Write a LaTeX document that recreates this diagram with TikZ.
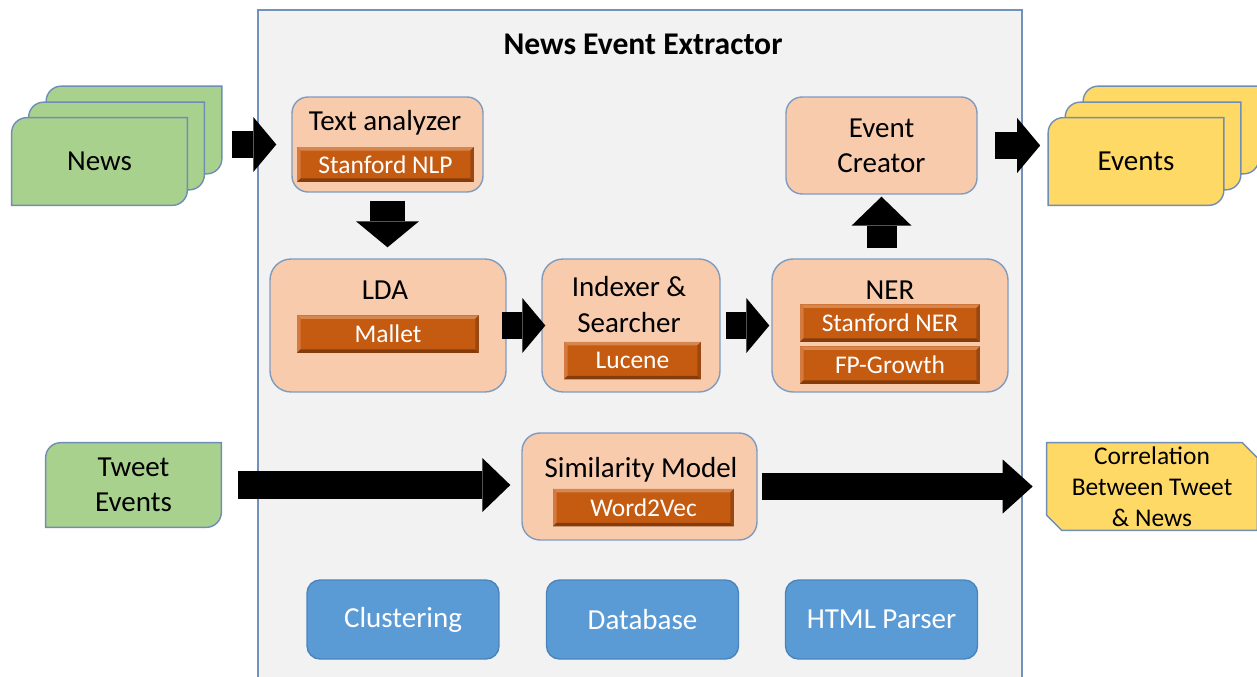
\documentclass[tikz,border=0pt]{standalone}
\usepackage{fontspec}
\setmainfont{Carlito}
\usepackage{tikz}
\usetikzlibrary{arrows.meta,backgrounds}
\definecolor{panel}{HTML}{F2F2F2}
\definecolor{panelline}{HTML}{7292BC}
\definecolor{boxline}{HTML}{7F9BC0}
\definecolor{stagefill}{HTML}{F8CBAD}
\definecolor{toolfill}{HTML}{C55A11}
\definecolor{toollight}{HTML}{D6864F}
\definecolor{toolside}{HTML}{D27A40}
\definecolor{tooldark}{HTML}{843C0C}
\definecolor{toolshade}{HTML}{9A4810}
\definecolor{newsgreen}{HTML}{A9D18E}
\definecolor{eventyellow}{HTML}{FFD966}
\definecolor{cardline}{HTML}{6F8DB5}
\definecolor{servicefill}{HTML}{5B9BD5}
\definecolor{serviceline}{HTML}{4A84BC}

\begin{document}
\begin{tikzpicture}[x=0.02cm,y=-0.02cm]
    \tikzstyle{stage}=[rectangle,rounded corners=0.32cm,draw=boxline,fill=stagefill,line width=0.8pt,inner sep=0pt]
    \tikzstyle{heading}=[font=\fontsize{16.5}{20}\selectfont,align=center]
    \tikzstyle{tool}=[rectangle,fill=toolfill,text=white,inner sep=0pt,minimum height=0.75cm,font=\fontsize{14.5}{17}\selectfont,
        path picture={
            \path (path picture bounding box.north west) coordinate (tl) (path picture bounding box.north east) coordinate (tr)
                  (path picture bounding box.south west) coordinate (bl) (path picture bounding box.south east) coordinate (br);
            \fill[toollight] (tl) -- (tr) -- ([shift={(-0.07cm,-0.07cm)}]tr) -- ([shift={(0.07cm,-0.07cm)}]tl) -- cycle;
            \fill[toolside] (tl) -- ([shift={(0.07cm,-0.07cm)}]tl) -- ([shift={(0.07cm,0.07cm)}]bl) -- (bl) -- cycle;
            \fill[tooldark] (bl) -- (br) -- ([shift={(-0.07cm,0.07cm)}]br) -- ([shift={(0.07cm,0.07cm)}]bl) -- cycle;
            \fill[toolshade] (tr) -- (br) -- ([shift={(-0.07cm,0.07cm)}]br) -- ([shift={(-0.07cm,-0.07cm)}]tr) -- cycle;
        }]
    \tikzstyle{cardnode}=[rectangle,inner sep=0pt,minimum width=3.5cm,minimum height=1.74cm,font=\fontsize{16.5}{20}\selectfont,align=center]
    \tikzstyle{card}=[draw=cardline,line width=0.8pt]
    \tikzstyle{service}=[rectangle,rounded corners=0.26cm,draw=serviceline,fill=servicefill,line width=0.8pt,text=white,minimum width=3.84cm,minimum height=1.58cm,font=\fontsize{16.5}{20}\selectfont]
    \tikzstyle{flow}=[line width=0.55cm,-{Triangle[length=0.46cm,width=1.1cm,line width=0pt]}]
    \useasboundingbox (0,0) rectangle (1257,676);
    \node (extractor) at (640,350) [rectangle,draw=panelline,fill=panel,line width=0.8pt,minimum width=15.28cm,minimum height=13.6cm] {};
    \node (title) at (643,44) [font=\fontsize{18}{22}\selectfont\bfseries] {News Event Extractor};
    \node (ta)   at (387.5,144.5) [stage,minimum width=3.82cm,minimum height=1.9cm] {};
    \node (lda)  at (388,325.5)   [stage,rounded corners=0.42cm,minimum width=4.72cm,minimum height=2.66cm] {};
    \node (idx)  at (631,325.5)   [stage,rounded corners=0.42cm,minimum width=3.56cm,minimum height=2.66cm] {};
    \node (ner)  at (890,325.5)   [stage,rounded corners=0.42cm,minimum width=4.72cm,minimum height=2.66cm] {};
    \node (ec)   at (881.5,145.5) [stage,minimum width=3.82cm,minimum height=1.94cm,heading] {Event\\Creator};
    \node (sim)  at (639.5,486.5) [stage,rounded corners=0.36cm,minimum width=4.7cm,minimum height=2.14cm] {};
    \node (taname)  at (385,123)   [heading] {Text analyzer};
    \node (ldaname) at (385,290)   [heading] {LDA};
    \node (idxname) at (629,304.5) [heading] {Indexer \&\\Searcher};
    \node (nername) at (890,290)   [heading] {NER};
    \node (simname) at (641,470)   [heading] {Similarity Model};
    \node (nlp)     at (385.5,164.5) [tool,minimum width=3.54cm,minimum height=0.7cm] {Stanford NLP};
    \node (mallet)  at (388,334)     [tool,minimum width=3.64cm] {Mallet};
    \node (lucene)  at (632.5,360.5) [tool,minimum width=2.74cm] {Lucene};
    \node (snername) at (890,323)    [tool,minimum width=3.6cm] {Stanford NER};
    \node (fpgrowth) at (890,365)    [tool,minimum width=3.6cm] {FP-Growth};
    \node (wordvec) at (643.5,507.5) [tool,minimum width=3.62cm] {Word2Vec};
    \node (clustering) at (403,619.5)   [service] {Clustering};
    \node (database)   at (642.5,619.5) [service] {Database};
    \node (parser)     at (881.5,619.5) [service] {HTML Parser};
    \node (news3) at (134,130)    [cardnode] {};
    \node (news2) at (116.5,146)  [cardnode] {};
    \node (news1) at (99.5,161.5) [cardnode] {News};
    \node (ev3)   at (1171,130)   [cardnode] {};
    \node (ev2)   at (1153,146)   [cardnode] {};
    \node (ev1)   at (1136,161.5) [cardnode] {Events};
    \node (tweet) at (133.5,485)  [cardnode,minimum height=1.68cm] {Tweet\\Events};
    \node (corr)  at (1152,486.5) [cardnode,minimum width=4.2cm,font=\fontsize{14.5}{17.5}\selectfont] {Correlation\\Between  Tweet\\\& News};
    \begin{scope}[on background layer]
        \foreach \c/\col in {news3/newsgreen,news2/newsgreen,news1/newsgreen,ev3/eventyellow,ev2/eventyellow,ev1/eventyellow,tweet/newsgreen}
            \filldraw[card,fill=\col] ([yshift=-0.3cm]\c.north west) arc[start angle=180,end angle=90,radius=0.3cm] -- (\c.north east)
                -- ([yshift=0.3cm]\c.south east) arc[start angle=0,end angle=-90,radius=0.3cm] -- (\c.south west) -- cycle;
        \filldraw[card,fill=eventyellow] (corr.north west) -- ([xshift=-0.3cm]corr.north east) -- ([yshift=-0.3cm]corr.north east)
            -- (corr.south east) -- ([xshift=0.3cm]corr.south west) -- ([yshift=0.3cm]corr.south west) -- cycle;
    \end{scope}
    \draw [flow,shorten <=0.2cm,shorten >=0.3cm] (news3.east |- ta.west) -- (ta.west);
    \draw [flow,line width=0.7cm,-{Triangle[length=0.52cm,width=1.26cm,line width=0pt]},shorten <=0.16cm,shorten >=0.22cm] (ta.south) -- (ta.south |- lda.north);
    \draw [flow,shorten <=-0.1cm,shorten >=-0.08cm] (lda.east) -- (lda.east -| idx.west);
    \draw [flow,shorten <=0.1cm,shorten >=0.04cm] (idx.east) -- (ner.west);
    \draw [flow,line width=0.6cm,-{Triangle[length=0.58cm,width=1.2cm,line width=0pt]},shorten <=0.2cm,shorten >=0.04cm] (ec.south |- ner.north) -- (ec.south);
    \draw [flow,shorten <=0.34cm,shorten >=0.16cm] (ec.east) -- (ec.east -| ev1.west);
    \draw [flow,-{Triangle[length=0.56cm,width=1.08cm,line width=0pt]},shorten <=0.34cm,shorten >=0.22cm] (tweet.east) -- (tweet.east -| sim.west);
    \draw [flow,-{Triangle[length=0.6cm,width=1.08cm,line width=0pt]},shorten <=0.08cm,shorten >=0.28cm] (sim.east) -- (sim.east -| corr.west);
\end{tikzpicture}
\end{document}
